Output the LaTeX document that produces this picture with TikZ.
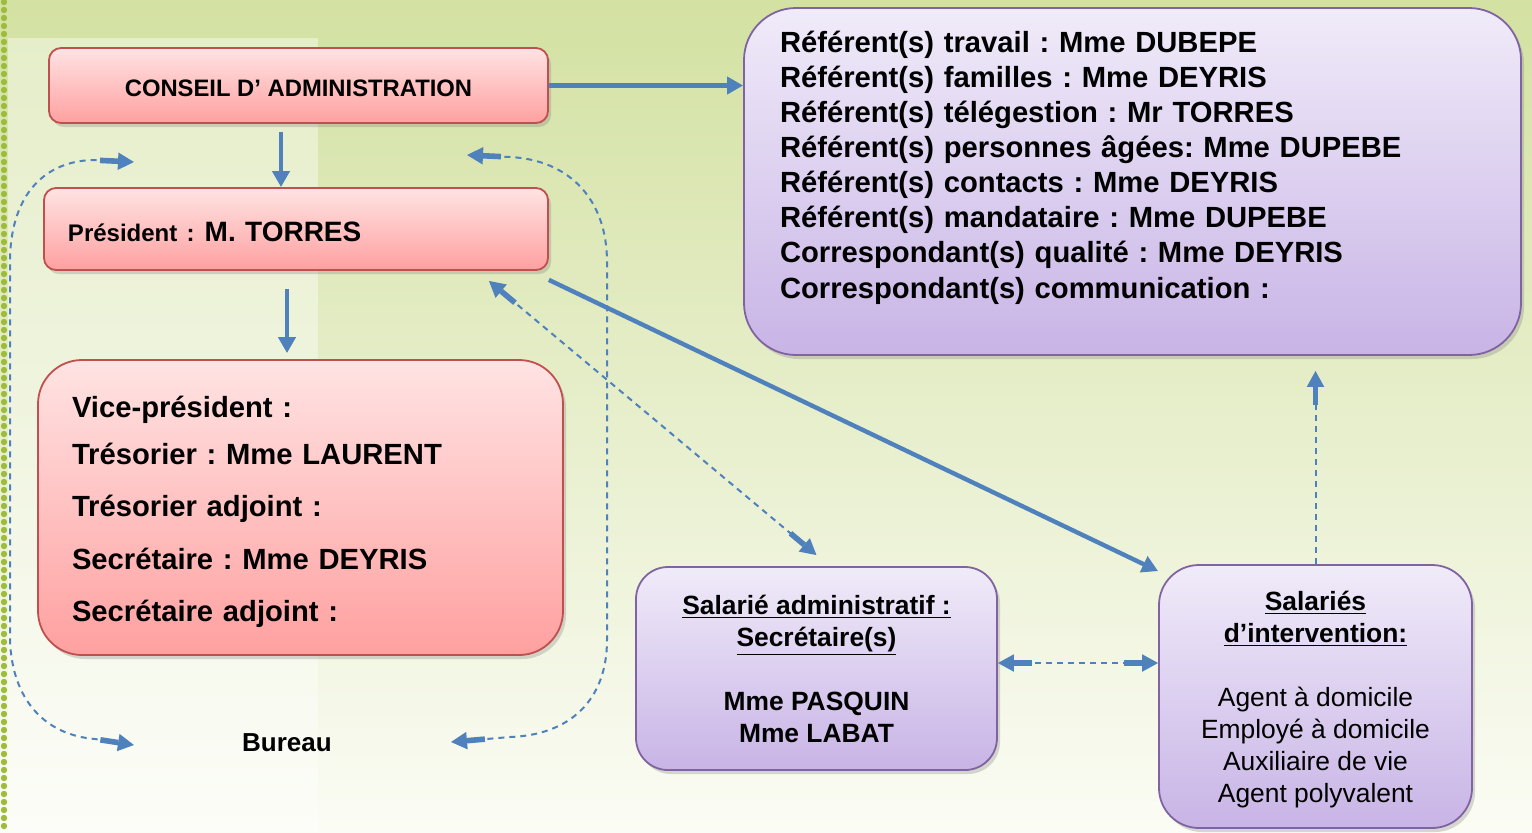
\documentclass[tikz,border=0pt]{standalone}
\usepackage{fontspec}
\setmainfont{Liberation Sans}
\usetikzlibrary{arrows.meta,shadows}
\frenchspacing

\definecolor{bgtop}{HTML}{D3E1A2}
\definecolor{bgmid}{HTML}{E6EDCD}
\definecolor{bgbottom}{HTML}{FBFCF5}
\definecolor{dotgreen}{HTML}{9DBB3C}
\definecolor{redtop}{HTML}{FFE3E3}
\definecolor{redbottom}{HTML}{FFA0A0}
\definecolor{redline}{HTML}{C0504D}
\definecolor{lilactop}{HTML}{F0EBF9}
\definecolor{lilacbottom}{HTML}{C8B4E6}
\definecolor{lilacline}{HTML}{8064A2}
\definecolor{linkblue}{HTML}{4F81BD}

\newcommand{\bigfont}{\bfseries\fontsize{14.6}{17.57}\selectfont}
\newcommand{\midfont}{\fontsize{13.2}{16}\selectfont}

\tikzset{
  boxshadow/.style={drop shadow={shadow xshift=1.5pt, shadow yshift=-2pt, opacity=0.3}},
  redbox/.style={draw=redline, line width=0.9pt, top color=redtop, bottom color=redbottom, boxshadow},
  lilacbox/.style={draw=lilacline, line width=0.9pt, top color=lilactop, bottom color=lilacbottom, boxshadow},
  linktip/.tip={Rectangle[length=9pt,width=2.8pt] Triangle[length=8pt,width=8.5pt]},
  flow/.style={draw=linkblue, line width=2.2pt, -{Triangle[length=8pt,width=8.5pt]}},
  link/.style={draw=linkblue, line width=1pt, dash pattern=on 3pt off 2.5pt},
}

\begin{document}
\begin{tikzpicture}[x=0.5pt,y=-0.5pt]
  \useasboundingbox (0,0) rectangle (1532,832);
  \shade[top color=bgtop, middle color=bgmid, bottom color=bgbottom] (0,0) rectangle (1532,832);
  \fill[white, fill opacity=0.4] (8,38) rectangle (318,832);
  \draw[dotgreen, line width=3.2pt, line cap=round, dash pattern=on 0pt off 4pt] (4,2) -- (4,832);

  \node[redbox, rounded corners=6pt, minimum width=249.5pt, minimum height=37.5pt,
    font=\bfseries\fontsize{11.9}{14}\selectfont] (ca) at (298.5,85.5) {\rule{0pt}{11pt}CONSEIL D’ ADMINISTRATION};
  \node[redbox, rounded corners=6pt, minimum width=252pt, minimum height=41pt, text width=228pt,
    inner xsep=12pt, align=left, font=\bfseries\fontsize{14}{16}\selectfont] (pres) at (296,229)
    {\rule{0pt}{13pt}{\fontsize{12}{14}\selectfont Président :}\hspace{5pt}M. TORRES};
  \node[redbox, rounded corners=22pt, minimum width=262.5pt, minimum height=147.5pt, text width=228.5pt,
    inner xsep=17pt, align=left, font=\bfseries\fontsize{14.6}{26.2}\selectfont] (vice) at (300.5,507.5)
    {\rule{0pt}{15pt}Vice-président :\\[-2.75pt] Trésorier : Mme LAURENT\\ Trésorier adjoint :\\ Secrétaire : Mme DEYRIS\\ Secrétaire adjoint :};
  \node[font=\bfseries\fontsize{13}{15}\selectfont] (bureau) at (287,743) {Bureau};

  \node[lilacbox, rounded corners=26pt, minimum width=388.5pt, minimum height=173.5pt, text width=352.5pt,
    inner xsep=18pt, align=left, font=\bigfont] (ref) at (1132.5,181.5)
    {Référent(s) travail : Mme DUBEPE\\ Référent(s) familles : Mme DEYRIS\\ Référent(s) télégestion : Mr TORRES\\
     Référent(s) personnes âgées: Mme DUPEBE\\ Référent(s) contacts : Mme DEYRIS\\ Référent(s) mandataire : Mme DUPEBE\\
     Correspondant(s) qualité : Mme DEYRIS\\ Correspondant(s) communication :\\[-0.5pt]\mbox{}};
  \node[lilacbox, rounded corners=16pt, minimum width=180.5pt, minimum height=101.5pt, align=center,
    font=\bfseries\midfont] (adm) at (816.5,668.5)
    {\underline{Salarié administratif :}\\ \underline{Secrétaire(s)}\\[16pt] Mme PASQUIN\\ Mme LABAT};
  \node[lilacbox, rounded corners=20pt, minimum width=156.5pt, minimum height=131.5pt, align=center,
    font=\midfont] (interv) at (1315.5,696.5)
    {\rule{0pt}{13pt}\textbf{\underline{Salariés}}\\ \textbf{\underline{d’intervention:}}\\[16pt] Agent à domicile\\ Employé à domicile\\
     Auxiliaire de vie\\ Agent polyvalent};

  \draw[flow] (ca.east) -- (ca.east -| ref.west);
  \draw[flow, shorten <=4pt] ([xshift=-8.75pt]ca.south) -- ([xshift=-8.75pt]ca.south |- pres.north);
  \draw[flow, shorten <=9pt, shorten >=3pt] ([xshift=-4.5pt]pres.south) -- ([xshift=-4.5pt]pres.south |- vice.north);
  \draw[flow] ([yshift=-4.5pt]pres.south east) -- ([yshift=-3.5pt]interv.north west);
  \draw[link, linktip-linktip] ([xshift=-30pt,yshift=-5pt]pres.south east) -- ([yshift=5.5pt]adm.north);
  \draw[link, linktip-linktip] ([yshift=2.75pt]adm.east) -- ([yshift=2.75pt]adm.east -| interv.west);
  \draw[link, -linktip, shorten >=7.5pt] (interv.north) -- (interv.north |- ref.south);

  \coordinate (lt) at (134,162);
  \coordinate (lb) at (134,745);
  \coordinate (rt) at (467,155);
  \coordinate (rb) at (451,742);
  \draw[link, linktip-linktip] (lt) -- (92,160) .. controls (40,162) and (10,200) .. (10,262)
    -- (10,640) .. controls (12,700) and (45,735) .. (95,739) -- (lb);
  \draw[link, linktip-linktip] (rt) -- (510,157) .. controls (570,160) and (607,200) .. (607,262)
    -- (607,640) .. controls (607,700) and (570,735) .. (510,737) -- (rb);
\end{tikzpicture}
\end{document}
